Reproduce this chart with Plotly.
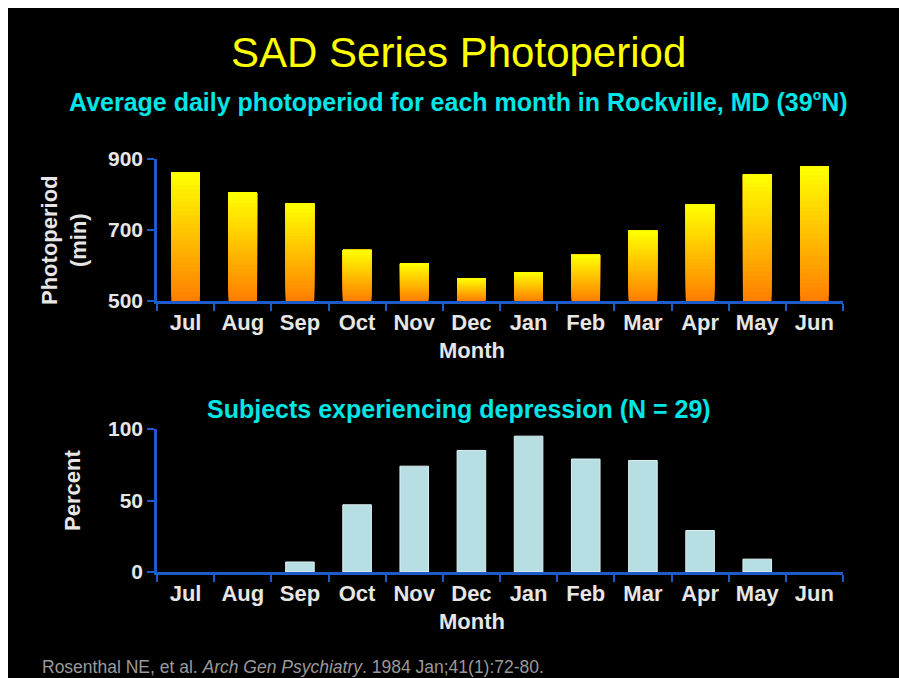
import plotly.graph_objects as go

# ---- data ----
months = ["Jul", "Aug", "Sep", "Oct", "Nov", "Dec", "Jan", "Feb", "Mar", "Apr", "May", "Jun"]
photoperiod_min = [863, 806, 775, 644, 606, 564, 581, 630, 698, 772, 857, 880]
depressed_pct = [0, 0, 7, 47, 74, 85, 95, 79, 78, 29, 9, 0]
photo_ticks = [500, 700, 900]
pct_ticks = [0, 50, 100]

W, H = 896, 675          # figure sits at (8,8) inside the page (body margin); overflow clipped
OFF = 8

def fx(x_ref):
    return (x_ref - OFF) / W

def fy(y_ref):
    return 1 - (y_ref - OFF) / H

FONT = "Liberation Sans, Arial, Helvetica, sans-serif"
BLUE = "#1F5BC8"
LABEL = "#E6E6E6"

fig = go.Figure()

# gradient bars for photoperiod (layered, orange bottom -> yellow top)
N = 30
c0 = (255, 128, 0)
c1 = (255, 255, 0)
base_val = photo_ticks[0]
for k in range(N):
    t = k / (N - 1)
    col = "rgb(%d,%d,%d)" % tuple(round(a + (b - a) * t) for a, b in zip(c0, c1))
    bases = [base_val + (v - base_val) * k / N for v in photoperiod_min]
    heights = [v - b for v, b in zip(photoperiod_min, bases)]
    fig.add_trace(go.Bar(
        x=months, y=heights, base=bases, width=0.5,
        marker=dict(color=col, line=dict(width=0)),
        xaxis="x", yaxis="y", showlegend=False, hoverinfo="skip",
    ))

fig.add_trace(go.Bar(
    x=months, y=depressed_pct, width=0.5,
    marker=dict(color="#B7DEE3",
                line=dict(color="#DDF0F2", width=[1 if v > 0 else 0 for v in depressed_pct])),
    xaxis="x2", yaxis="y2", showlegend=False,
))

tickfont = dict(family=FONT, size=22, color=LABEL, weight="bold")
ytickfont = dict(family=FONT, size=21, color=LABEL, weight="bold")
common_x = dict(
    type="category", categoryorder="array", categoryarray=months,
    range=[-0.5, 11.5], domain=[fx(157), fx(843)],
    showline=True, linecolor=BLUE, linewidth=2.5,
    ticks="outside", tickson="boundaries", ticklen=7, tickwidth=2, tickcolor=BLUE,
    tickfont=tickfont, showgrid=False, zeroline=False, automargin=False,
    fixedrange=True,
)
common_y = dict(
    showline=True, linecolor=BLUE, linewidth=2.5,
    ticks="outside", ticklen=7, tickwidth=2, tickcolor=BLUE,
    tickfont=ytickfont, showgrid=False, zeroline=False, automargin=False,
    fixedrange=True,
)

fig.update_layout(
    width=W, height=H, autosize=False,
    margin=dict(l=0, r=0, t=0, b=0),
    paper_bgcolor="black", plot_bgcolor="black",
    barmode="overlay", showlegend=False,
    xaxis=dict(anchor="y", **common_x),
    yaxis=dict(anchor="x", domain=[fy(301), fy(159)], range=[500, 900],
               tickvals=photo_ticks, **common_y),
    xaxis2=dict(anchor="y2", **common_x),
    yaxis2=dict(anchor="x2", domain=[fy(572), fy(429)], range=[0, 100],
                tickvals=pct_ticks, **common_y),
)

def ann(text, x_ref, y_ref, size, color, bold=True, angle=0, xanchor="center"):
    fig.add_annotation(
        text=text, x=fx(x_ref), y=fy(y_ref), xref="paper", yref="paper",
        xanchor=xanchor, yanchor="middle", showarrow=False, textangle=angle,
        font=dict(family=FONT, size=size, color=color,
                  weight="bold" if bold else "normal"),
    )

ann("SAD Series Photoperiod", 458, 52, 42, "#FFFF00", bold=False)
ann("Average daily photoperiod for each month in Rockville, MD "
    "(39<sup><span style='font-size:14px'>o</span></sup>N)",
    458, 102, 25, "#00E5E5")
ann("Subjects experiencing depression (N = 29)", 459, 409, 25, "#00E5E5")
ann("Photoperiod<br>(min)", 64, 240, 22, LABEL, angle=-90)
ann("Percent", 73, 491, 22, LABEL, angle=-90)
ann("Month", 472, 350, 22, LABEL)
ann("Month", 472, 621, 22, LABEL)
ann("Rosenthal NE, et al. <i>Arch Gen Psychiatry</i>. 1984 Jan;41(1):72-80.",
    40, 667, 17.5, "#9A9A9A", bold=False, xanchor="left")

fig.write_html(
    "out.html",
    config={"displayModeBar": False},
    post_script=(
        "document.documentElement.style.background='white';"
        "document.documentElement.style.overflow='hidden';"
        "document.body.style.margin='8px 0 0 8px';"
        "document.body.style.background='black';"
        "document.body.style.minHeight='700px';"
        "document.body.style.overflow='hidden';"
    ),
)
